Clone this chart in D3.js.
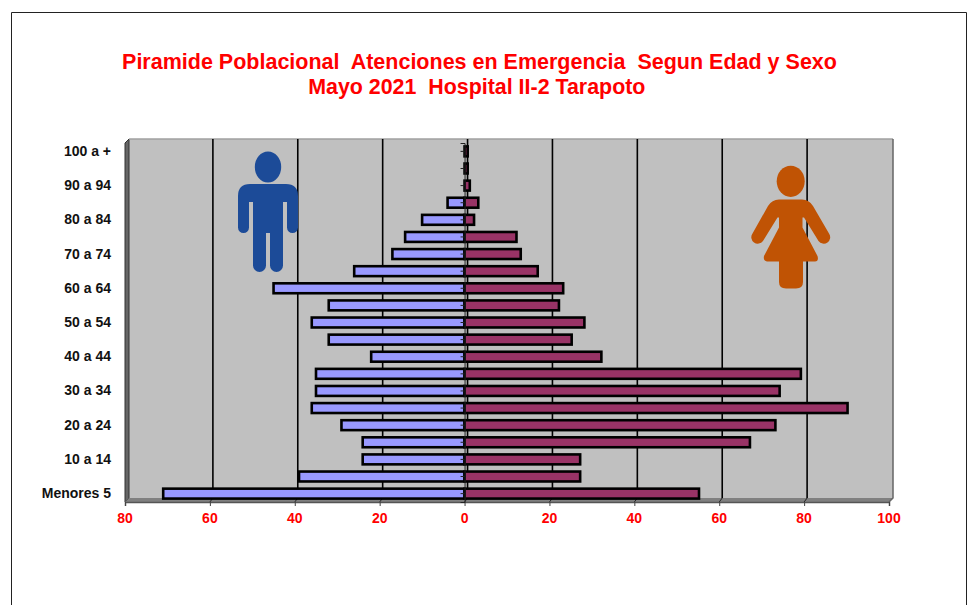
<!DOCTYPE html>
<html><head><meta charset="utf-8">
<script src="https://d3js.org/d3.v7.min.js"></script>
<style>html,body{margin:0;padding:0;background:#fff}svg{display:block}text{font-family:"Liberation Sans",Arial,sans-serif;font-weight:bold}</style>
</head><body><svg id="c" width="969" height="605"></svg>
<script>
const categories=["100 a +","95 a 99","90 a 94","85 a 89","80 a 84","75 a 79","70 a 74","65 a 69","60 a 64","55 a 59","50 a 54","45 a 49","40 a 44","35 a 39","30 a 34","25 a 29","20 a 24","15 a 19","10 a 14","5 a 9","Menores 5"];
const hombres=[0,0,0,4,10,14,17,26,45,32,36,32,22,35,35,36,29,24,24,39,71];
const mujeres=[0.5,0.5,1,3,2,12,13,17,23,22,28,25,32,79,74,90,73,67,27,27,55];
const xTicks=[-80,-60,-40,-20,0,20,40,60,80,100];
const titulo=["Piramide Poblacional  Atenciones en Emergencia  Segun Edad y Sexo","Mayo 2021  Hospital II-2 Tarapoto"];

const svg=d3.select("#c");
const depth=4, gridDepth=3;
const x=d3.scaleLinear().domain([-80,100]).range([125,889]);
const y=d3.scaleBand().domain(categories).range([143,502]).paddingInner(0.42).paddingOuter(0.2);

// outer frame
svg.append("path").attr("d","M11.5,605V12.5H966.5V605").attr("fill","none").attr("stroke","#222").attr("stroke-width",1);

titulo.forEach((t,i)=>svg.append("text").attr("x",i?476.8:479.5).attr("y",69+i*25).attr("text-anchor","middle")
  .attr("fill","#ff0000").attr("font-size",i?21.4:21.5).style("white-space","pre").text(t));

// 3D walls
const L=x.range()[0],R=x.range()[1],T=y.range()[0],B=y.range()[1];
svg.append("rect").attr("x",L+depth).attr("y",T-depth).attr("width",R-L).attr("height",B-T).attr("fill","#c0c0c0");
svg.append("path").attr("d",`M${L},${T}L${L+depth},${T-depth}V${B-depth}L${L},${B}Z`).attr("fill","#666").attr("stroke","#333").attr("stroke-width",1);
svg.append("path").attr("d",`M${L},${B}L${L+depth},${B-depth}H${R+depth}L${R},${B}Z`).attr("fill","#808080");
svg.append("path").attr("d",`M${L+depth},${T-depth}H${R+depth}`).attr("stroke","#a0a0a0").attr("stroke-width",1.5);
svg.append("path").attr("d",`M${R+depth},${T-depth}V${B-depth}L${R},${B}`).attr("fill","none").attr("stroke","#666").attr("stroke-width",1.5);

// gridlines on the back wall
svg.append("g").selectAll("line").data(xTicks.filter(d=>d>-80&&d<100)).join("line")
  .attr("x1",d=>x(d)+gridDepth).attr("x2",d=>x(d)+gridDepth).attr("y1",T-depth).attr("y2",B-depth)
  .attr("stroke","#000").attr("stroke-width",1.6);
svg.append("g").selectAll("line").data(xTicks.filter(d=>d>-80&&d<100)).join("line")
  .attr("x1",d=>x(d)+gridDepth).attr("x2",d=>x(d)).attr("y1",B-depth).attr("y2",B)
  .attr("stroke","#222").attr("stroke-width",1);

// icons
const man=svg.append("g").attr("fill","#1c4b98");
man.append("ellipse").attr("cx",268).attr("cy",167).attr("rx",13.2).attr("ry",15.5);
man.append("path").attr("d","M250,184H286Q298,184 298,196V227.5A5.5,5.5 0 0 1 287,227.5V202H283V265.5A6.5,6.5 0 0 1 270,265.5V233H266V265.5A6.5,6.5 0 0 1 253,265.5V202H249V227.5A5.5,5.5 0 0 1 238,227.5V196Q238,184 250,184Z");
const woman=svg.append("g").attr("fill","#c05304");
woman.append("ellipse").attr("cx",790.7).attr("cy",181.3).attr("rx",14).attr("ry",15.6);
woman.append("path").attr("d","M779,199.5H802Q809,199.5 813,206L829,233.5A6,6 0 0 1 818.5,241L804,217.5H802.5V227.5L817.5,256Q819,261 815,261.5H803V282Q803,288.5 796,288.5H786Q779,288.5 779,282V261.5H767Q763,261 764,256L779,227.5V217.5H777.5L763,241A6,6 0 0 1 752.5,233.5L768,206Q772,199.5 779,199.5Z");

// bars
const h=y.bandwidth();
const barG=svg.append("g").attr("stroke","#000").attr("stroke-width",2.6);
barG.selectAll(".m").data(categories.map((c,i)=>({c,v:hombres[i]}))).join("rect").attr("class","m")
  .attr("x",d=>x(-d.v)).attr("width",d=>x(0)-x(-d.v)).attr("y",d=>y(d.c)).attr("height",h).attr("fill","#9999ff");
barG.selectAll(".f").data(categories.map((c,i)=>({c,v:mujeres[i]}))).join("rect").attr("class","f")
  .attr("x",x(0)).attr("width",d=>x(d.v)-x(0)+1).attr("y",d=>y(d.c)).attr("height",h).attr("fill","#993366");

// axes
const ax=svg.append("g").attr("transform",`translate(0,${B})`)
  .call(d3.axisBottom(x).tickValues(xTicks).tickSize(4).tickFormat(d=>Math.abs(d)));
ax.select(".domain").attr("stroke","#555").attr("stroke-width",1.5);
ax.selectAll(".tick line").attr("stroke","#444");
ax.selectAll("text").attr("fill","#ff0000").attr("font-size",14).attr("font-family",null).attr("dy",null).attr("y",21).attr("x",-0.5);

const ay=svg.append("g").attr("transform",`translate(${x(0)},0)`)
  .call(d3.axisLeft(y).tickSize(4).tickFormat((d,i)=>i%2===0?d:""));
ay.select(".domain").attr("stroke","#222").attr("stroke-width",1);
ay.selectAll(".tick line").attr("stroke","#222");
ay.selectAll("text").attr("fill","#111").attr("font-size",14).attr("font-family",null).attr("x",111-x(0));
</script></body></html>
